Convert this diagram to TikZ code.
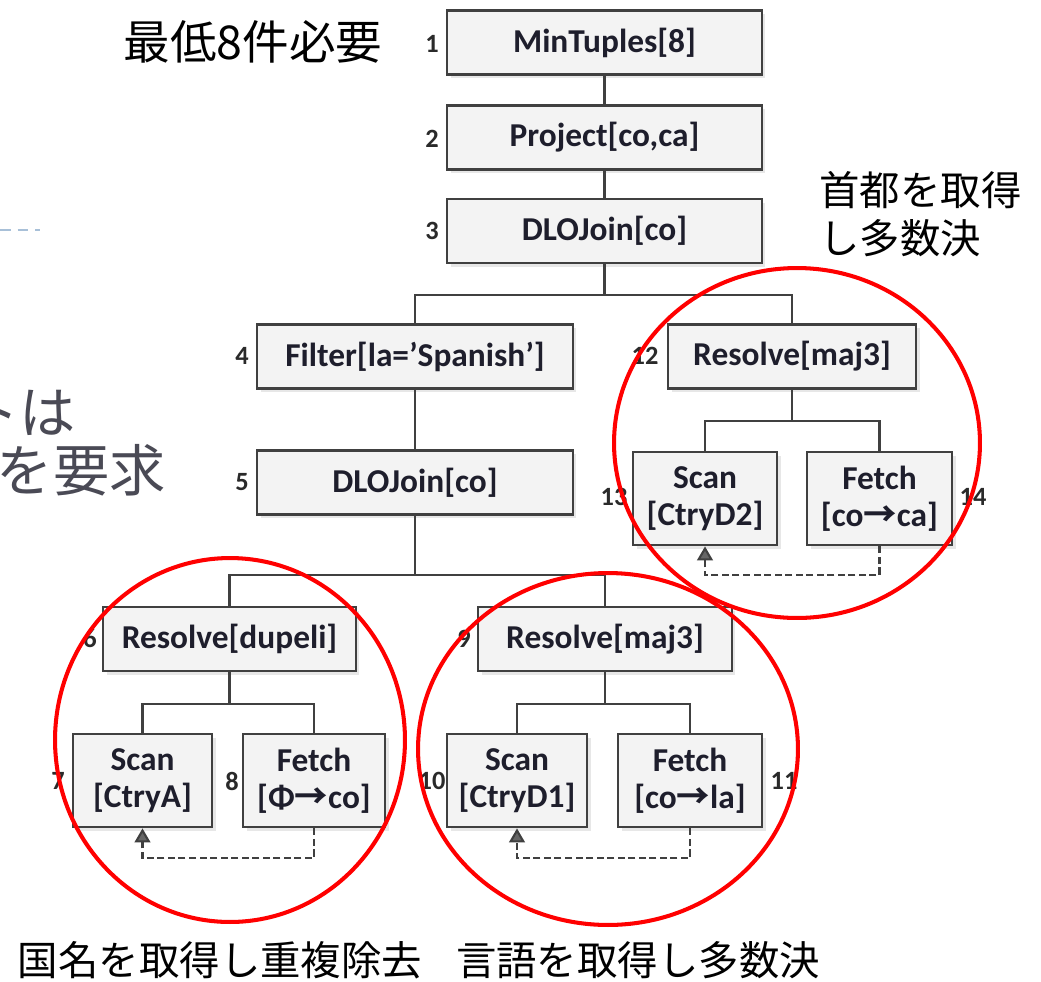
\documentclass[tikz,border=0pt]{standalone}
\usepackage{fontspec}
\setmainfont{Carlito}
\newfontfamily\jp{Noto Sans CJK JP}
\usetikzlibrary{arrows.meta,calc,shadows}
\definecolor{boxline}{HTML}{404040}
\definecolor{boxfill}{HTML}{F3F3F3}
\definecolor{txt}{HTML}{1E1E2C}
\definecolor{numcol}{HTML}{2A2A2A}
\definecolor{slidegray}{HTML}{4A4A55}
\definecolor{slideblue}{HTML}{A8C0D8}
\begin{document}
\begin{tikzpicture}[x=0.02cm,y=-0.02cm,
  box/.style={draw=boxline, line width=1.6pt, fill=boxfill, inner sep=0pt,
    font=\bfseries\fontsize{19}{21}\selectfont, text=txt, align=center,
    drop shadow={shadow xshift=2pt, shadow yshift=-2pt, fill=black!18}},
  onebox/.style={box, minimum height=1.28cm},
  twobox/.style={box, minimum height=1.86cm},
  num/.style={font=\bfseries\fontsize{15}{15}\selectfont, text=numcol, inner sep=0pt},
  link/.style={draw=boxline, line width=1.5pt},
  fb/.style={draw=boxline, line width=1.2pt, dash pattern=on 4pt off 2pt,
    -{Triangle[width=9pt,length=8pt,fill=boxline!80]}},
  redc/.style={draw=red, line width=2.3pt},
  jplabel/.style={font=\jp\fontsize{23}{28}\selectfont, text=black, inner sep=0pt},
  slide/.style={font=\jp\fontsize{32}{38}\selectfont, text=slidegray, inner sep=0pt}
]
\useasboundingbox (0,0) rectangle (1041,981);
\clip (0,0) rectangle (1041,981);
\fill[white] (0,0) rectangle (1041,981);

% slide remnants (cut off at the left edge, as in the reference)
\draw[slideblue, line width=1pt, dash pattern=on 6pt off 4pt] (0,230) coordinate (sl1) -- (40,230) coordinate (sl2);
\node[slide, anchor=east] (s1) at (76,413) {トは};
\node[slide, anchor=east] (s2) at (166,470) {を要求};

% boxes
\node[onebox, minimum width=6.3cm] (n1) at (604.5,42.5) {MinTuples[8]};
\node[onebox, minimum width=6.3cm] (n2) at (604.5,137.5) {Project[co,ca]};
\node[onebox, minimum width=6.3cm] (n3) at (604.5,231) {DLOJoin[co]};
\node[onebox, minimum width=6.32cm] (n4) at (415,356.5) {Filter[la=’Spanish’]};
\node[onebox, minimum width=6.32cm] (n5) at (415,482.5) {DLOJoin[co]};
\node[onebox, minimum width=4.96cm] (n12) at (792,356.5) {Resolve[maj3]};
\node[onebox, minimum width=5.06cm] (n6) at (229.5,639) {Resolve[dupeli]};
\node[onebox, minimum width=5.08cm] (n9) at (605,639) {Resolve[maj3]};
\node[twobox, minimum width=2.78cm] (n7) at (142.5,780.5) {Scan\\{[CtryA]}};
\node[twobox, minimum width=2.84cm] (n8) at (314,780.5) {Fetch\\{[Φ{\jp →}co]}};
\node[twobox, minimum width=2.8cm] (n10) at (517,780.5) {Scan\\{[CtryD1]}};
\node[twobox, minimum width=2.88cm] (n11) at (690,780.5) {Fetch\\{[co{\jp →}la]}};
\node[twobox, minimum width=2.88cm] (n13) at (705,498.5) {Scan\\{[CtryD2]}};
\node[twobox, minimum width=2.9cm] (n14) at (879.5,498.5) {Fetch\\{[co{\jp →}ca]}};

% numbers
\node[num] (l1) at (432,44) {1};
\node[num] (l2) at (432,139) {2};
\node[num] (l3) at (432,231) {3};
\node[num] (l4) at (242,356) {4};
\node[num] (l5) at (242,482) {5};
\node[num] (l6) at (90,639) {6};
\node[num] (l7) at (58,781) {7};
\node[num] (l8) at (232,781) {8};
\node[num] (l9) at (464,639) {9};
\node[num] (l10) at (432,781) {10};
\node[num] (l11) at (784,781) {11};
\node[num] (l12) at (645,356) {12};
\node[num] (l13) at (614,497) {13};
\node[num] (l14) at (973,497) {14};

% tree connectors
\draw[link] (n1.south) -- (n2.north);
\draw[link] (n2.south) -- (n3.north);
\draw[link] (n3.south) -- (n3.south |- 0,295) -| (n4.north);
\draw[link] (n3.south |- 0,295) -| (n12.north);
\draw[link] (n4.south) -- (n5.north);
\draw[link] (n5.south) -- (n5.south |- 0,575) -| (n6.north);
\draw[link] (n5.south |- 0,575) -| (n9.north);
\draw[link] (n6.south) -- (n6.south |- 0,704) -| (n7.north);
\draw[link] (n6.south |- 0,704) -| (n8.north);
\draw[link] (n9.south) -- (n9.south |- 0,704) -| (n10.north);
\draw[link] (n9.south |- 0,704) -| (n11.north);
\draw[link] (n12.south) -- (n12.south |- 0,421) -| (n13.north);
\draw[link] (n12.south |- 0,421) -| (n14.north);

% feedback (dashed) arrows
\draw[fb] (n8.south) -- (n8.south |- 0,858) -| (n7.south);
\draw[fb] (n11.south) -- (n11.south |- 0,858) -| (n10.south);
\draw[fb] (n14.south) -- (n14.south |- 0,575) -| (n13.south);

% red circles
\draw[redc] (230,740) ellipse [x radius=3.5cm, y radius=3.64cm];
\draw[redc] (608,749) ellipse [x radius=3.8cm, y radius=3.52cm];
\draw[redc] (797,443) ellipse [x radius=3.66cm, y radius=3.5cm];

% Japanese labels
\node[jplabel, font=\jp\fontsize{26.5}{30}\selectfont] (t1) at (253,42) {最低8件必要};
\node[jplabel, anchor=west] (t2) at (819,190) {首都を取得};
\node[jplabel, anchor=west] (t3) at (819,238) {し多数決};
\node[jplabel] (t4) at (220,960) {国名を取得し重複除去};
\node[jplabel] (t5) at (638,960) {言語を取得し多数決};
\end{tikzpicture}
\end{document}
